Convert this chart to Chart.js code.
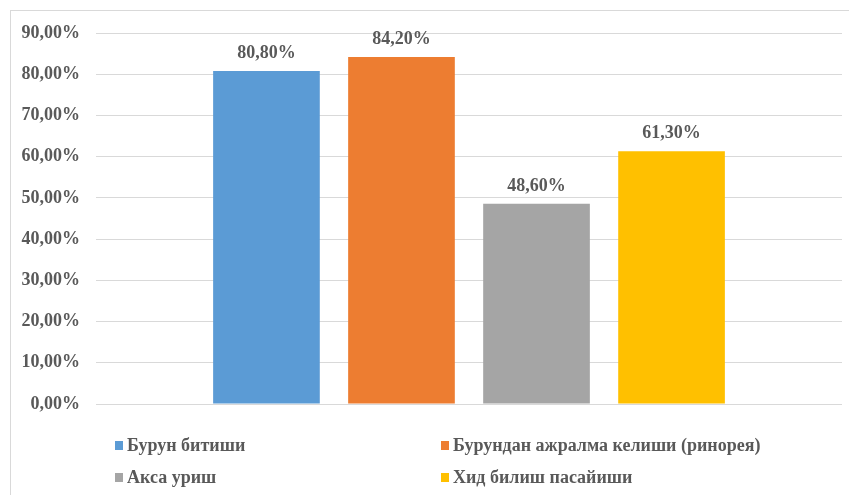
<!DOCTYPE html>
<html>
<head>
<meta charset="utf-8">
<script src="https://cdn.jsdelivr.net/npm/chart.js@4/dist/chart.umd.min.js"></script>
<style>
    html, body { margin: 0; padding: 0; background: #fff; }
    canvas { display: block; }
</style>
</head>
<body>
<canvas id="chart" width="849" height="495"></canvas>
<script>
let categories = [''];
let series_labels = ['Бурун битиши', 'Бурундан ажралма келиши (ринорея)', 'Акса уриш', 'Хид билиш пасайиши'];
let series_values = [[80.8], [84.2], [48.6], [61.3]];
let series_colors = ['#5b9bd5', '#ed7d31', '#a5a5a5', '#ffc000'];
let y_ticks = [0, 10, 20, 30, 40, 50, 60, 70, 80, 90];

const textColor = '#595959';
const fontFamily = "'Liberation Serif', 'Times New Roman', serif";

function formatPercent(v) {
    return v.toFixed(2).replace('.', ',') + '%';
}

// frame around the chart, cut by the right and bottom edges like the original
const framePlugin = {
    id: 'frame',
    beforeDraw(chart) {
        let ctx = chart.ctx;
        ctx.save();
        ctx.strokeStyle = '#d9d9d9';
        ctx.lineWidth = 1;
        ctx.strokeRect(10.5, 10.5, chart.width + 10, chart.height + 10);
        ctx.restore();
    }
};

// value above every bar
const valueLabels = {
    id: 'valueLabels',
    afterDatasetsDraw(chart) {
        let ctx = chart.ctx;
        ctx.save();
        ctx.font = 'bold 18px ' + fontFamily;
        ctx.fillStyle = textColor;
        ctx.textAlign = 'center';
        ctx.textBaseline = 'alphabetic';
        chart.data.datasets.forEach((ds, i) => {
            chart.getDatasetMeta(i).data.forEach((bar, j) => {
                ctx.fillText(formatPercent(ds.data[j]), bar.x, bar.y - 13);
            });
        });
        ctx.restore();
    }
};

// two column legend under the plot
const gridLegend = {
    id: 'gridLegend',
    afterDraw(chart) {
        let ctx = chart.ctx;
        let colX = [115, 441];
        let rowY = [445, 477];
        ctx.save();
        ctx.font = 'bold 18px ' + fontFamily;
        ctx.fillStyle = textColor;
        ctx.textBaseline = 'middle';
        chart.data.datasets.forEach((ds, i) => {
            let x = colX[i % 2];
            let y = rowY[Math.floor(i / 2)];
            ctx.fillStyle = ds.backgroundColor;
            ctx.fillRect(x, y - 4, 8, 9);
            ctx.fillStyle = textColor;
            ctx.fillText(ds.label, x + 12, y + 1);
        });
        ctx.restore();
    }
};

let ctx = document.getElementById('chart').getContext('2d');
let chart = new Chart(ctx, {
    type: 'bar',
    data: {
        labels: categories,
        datasets: series_labels.map((label, i) => ({
            label: label,
            data: series_values[i],
            backgroundColor: series_colors[i],
            categoryPercentage: 0.724,
            barPercentage: 0.79
        }))
    },
    options: {
        responsive: false,
        animation: false,
        layout: {
            padding: { left: 0, right: 7, top: 33, bottom: 83 }
        },
        plugins: {
            legend: { display: false },
            tooltip: { enabled: false }
        },
        scales: {
            x: {
                ticks: { display: false },
                grid: { display: false },
                border: { display: false }
            },
            y: {
                min: 0,
                max: 90,
                afterBuildTicks: (scale) => {
                    scale.ticks = y_ticks.map(v => ({ value: v }));
                },
                afterFit: (scale) => {
                    scale.width = 96;
                },
                ticks: {
                    callback: (v) => formatPercent(v),
                    color: textColor,
                    padding: 16,
                    font: { family: fontFamily, size: 18, weight: 'bold' }
                },
                grid: {
                    color: '#d9d9d9',
                    lineWidth: 1,
                    drawTicks: false
                },
                border: { display: false }
            }
        }
    },
    plugins: [framePlugin, valueLabels, gridLegend]
});
</script>
</body>
</html>
